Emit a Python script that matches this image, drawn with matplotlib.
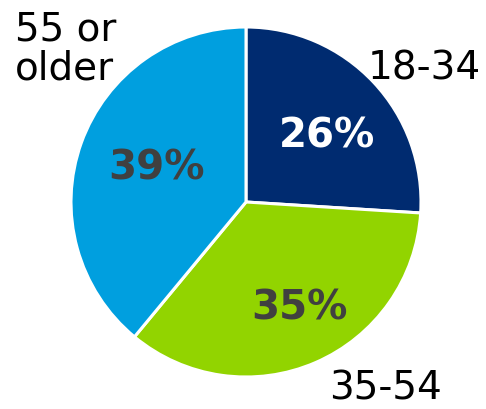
import matplotlib.pyplot as plt

# age group shares
groups = ['18-34', '35-54', '55 or\nolder']
shares = [26, 35, 39]
colors = ['#002B70', '#92D400', '#009FDF']
pct_colors = ['white', '#404040', '#404040']

W, H = 486, 409
fig = plt.figure(figsize=(W / 100, H / 100), dpi=100)
ax = fig.add_axes([0, 0, 1, 1])

cx, cy, r = 246, H - 202, 175
wedges, _ = ax.pie(shares, colors=colors, startangle=90, counterclock=False,
                   center=(cx, cy), radius=r, frame=True,
                   wedgeprops=dict(edgecolor='white', linewidth=2.2))
ax.set_xlim(0, W)
ax.set_ylim(0, H)
ax.set_aspect('equal')
ax.axis('off')

# percentage labels (pixel positions from the reference)
pct_pos = [(327, 136), (299, 309), (156, 168)]
for s, (x, y), c in zip(shares, pct_pos, pct_colors):
    ax.text(x, H - y, f'{s}%', ha='center', va='center', fontsize=29,
            fontweight='bold', color=c)

# group labels outside the pie
ax.text(424, H - 68, groups[0], ha='center', va='center', fontsize=28)
ax.text(385, H - 388, groups[1], ha='center', va='center', fontsize=28)
ax.text(15, H - 49, groups[2], ha='left', va='center', fontsize=28,
        linespacing=1.05)

fig.savefig('out.png', dpi=100)
